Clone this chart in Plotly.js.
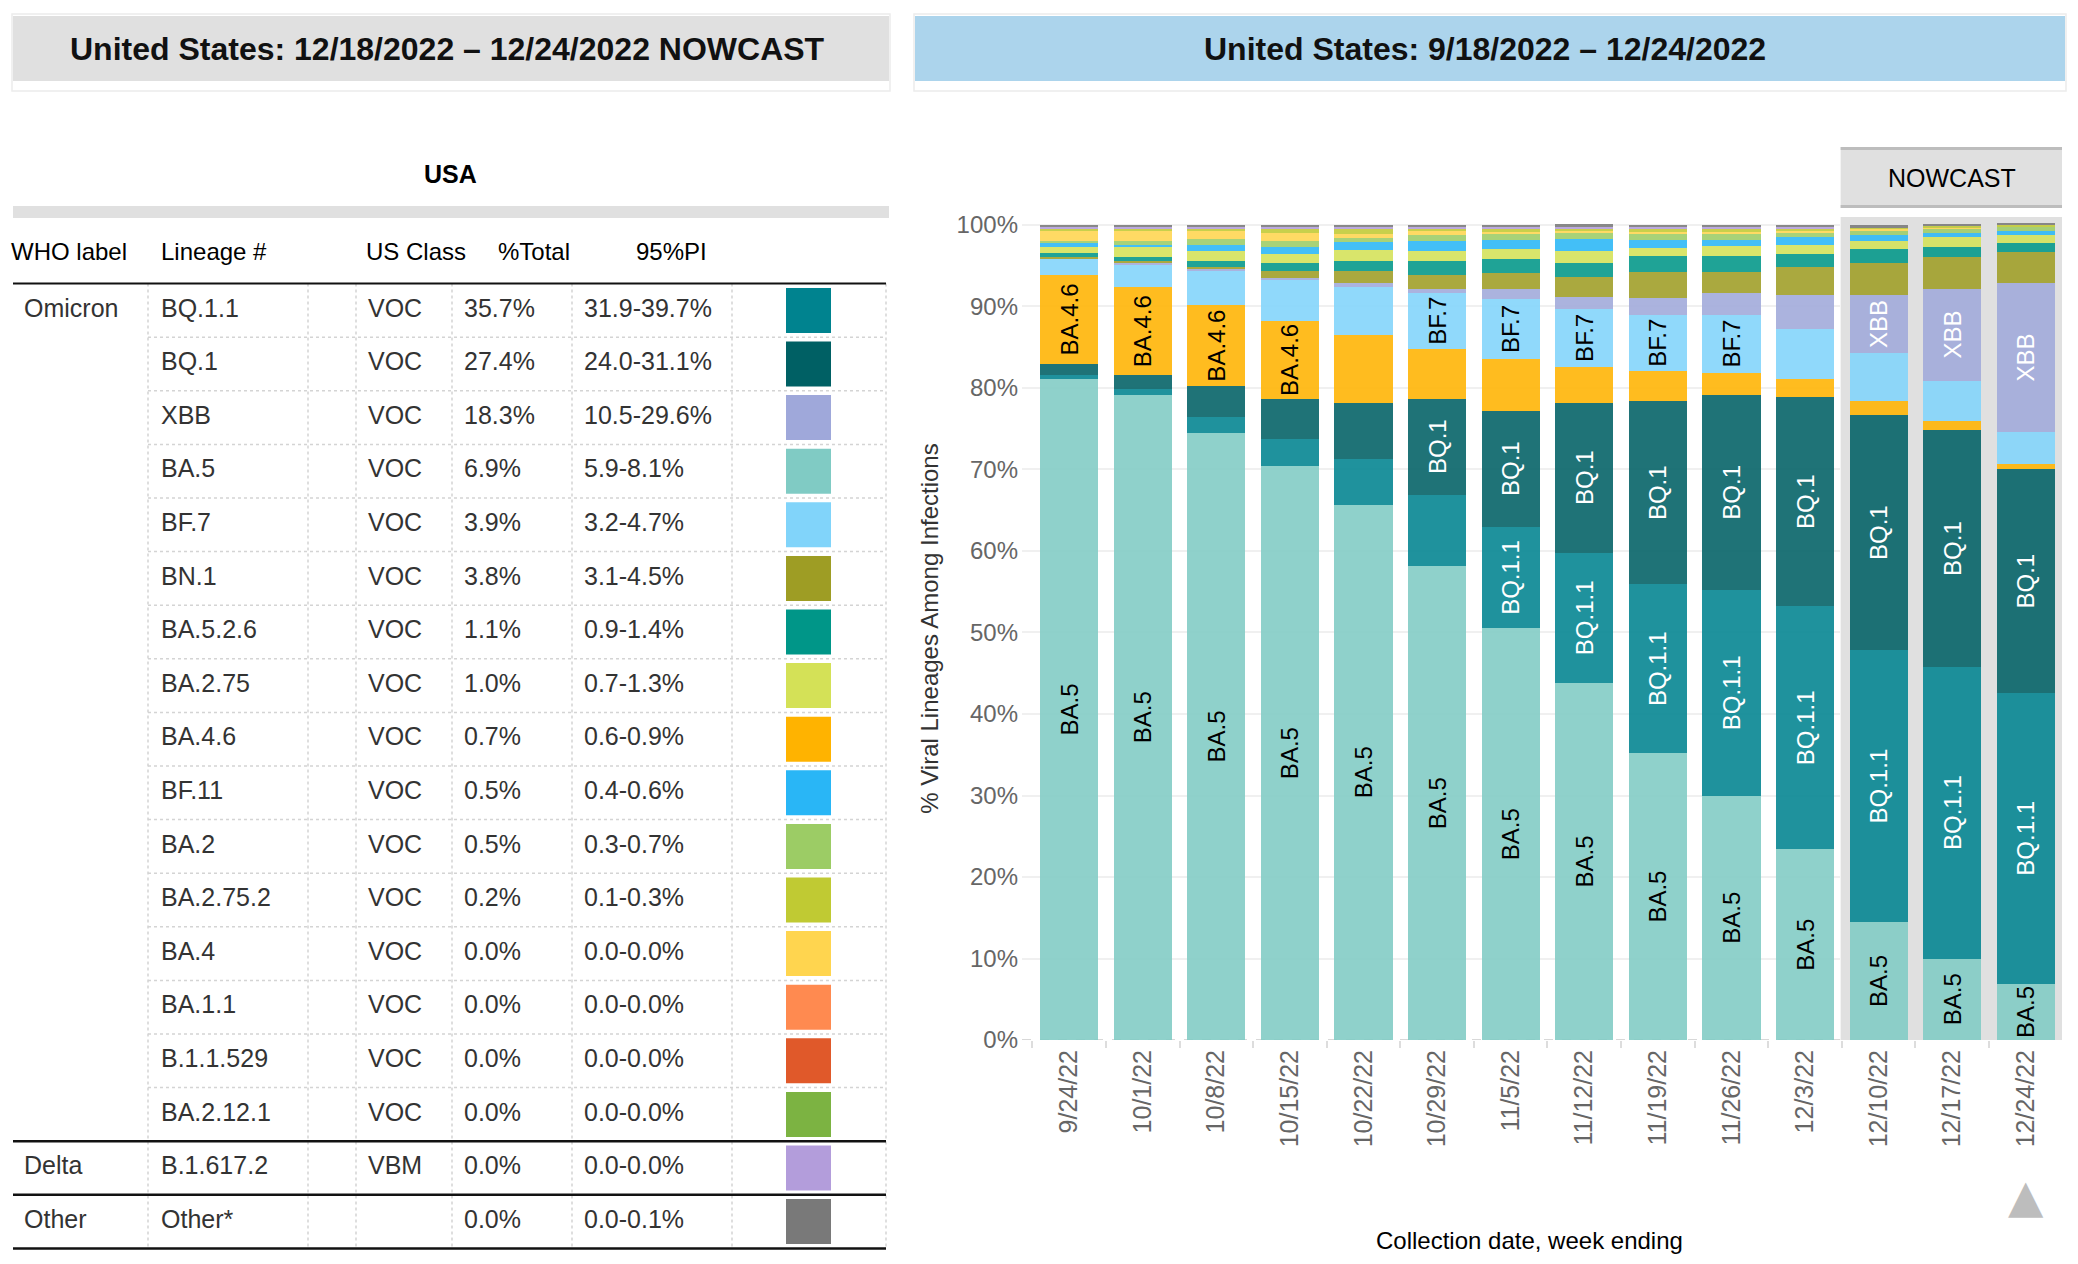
<!DOCTYPE html>
<html>
<head>
<meta charset="utf-8">
<script src="https://cdn.plot.ly/plotly-3.0.1.min.js"></script>
<style>
html,body{margin:0;padding:0;background:#ffffff;}
#chart{width:2078px;height:1264px;}
</style>
</head>
<body>
<div id="chart"></div>
<script>
// ---------------- DATA ----------------
const weeks = ['9/24/22','10/1/22','10/8/22','10/15/22','10/22/22','10/29/22','11/5/22',
               '11/12/22','11/19/22','11/26/22','12/3/22','12/10/22','12/17/22','12/24/22'];
const nHistory = 11;   // first 11 weeks observed, last 3 nowcast

// Table (nowcast 12/18-12/24)
const lineages  = ['BQ.1.1','BQ.1','XBB','BA.5','BF.7','BN.1','BA.5.2.6','BA.2.75','BA.4.6','BF.11',
                   'BA.2','BA.2.75.2','BA.4','BA.1.1','B.1.1.529','BA.2.12.1','B.1.617.2','Other*'];
const whoLabels = ['Omicron','','','','','','','','','','','','','','','','Delta','Other'];
const usClass   = ['VOC','VOC','VOC','VOC','VOC','VOC','VOC','VOC','VOC','VOC','VOC','VOC','VOC','VOC','VOC','VOC','VBM',''];
const pctTotal  = [35.7,27.4,18.3,6.9,3.9,3.8,1.1,1.0,0.7,0.5,0.5,0.2,0.0,0.0,0.0,0.0,0.0,0.0];
const piRange   = ['31.9-39.7%','24.0-31.1%','10.5-29.6%','5.9-8.1%','3.2-4.7%','3.1-4.5%','0.9-1.4%',
                   '0.7-1.3%','0.6-0.9%','0.4-0.6%','0.3-0.7%','0.1-0.3%','0.0-0.0%','0.0-0.0%',
                   '0.0-0.0%','0.0-0.0%','0.0-0.0%','0.0-0.1%'];
const colors    = ['#00838f','#006064','#9fa8da','#80cbc4','#81d4fa','#9e9d24','#009688','#d4e157',
                   '#ffb300','#29b6f6','#9ccc65','#c0ca33','#ffd54f','#ff8a50','#e0592a','#7cb342',
                   '#b39ddb','#797979'];
const headers   = ['WHO label','Lineage #','US Class','%Total','95%PI'];

// Weekly proportions (%), one array per lineage
const ba5    = [81.1,79.2,74.5,70.4,65.7,58.1,50.5,43.8,35.2,30.0,23.4,14.5,10.0,6.9];
const bq11   = [0.5,0.7,2.0,3.4,5.6,8.8,12.5,16.0,20.7,25.2,29.8,33.3,35.8,35.7];
const bq1    = [1.3,1.7,3.7,4.9,6.9,11.8,14.2,18.4,22.5,24.0,25.7,28.9,29.0,27.4];
const ba46   = [11.0,10.75,10.0,9.5,8.3,6.1,6.4,4.4,3.7,2.7,2.2,1.7,1.2,0.7];
const bf7    = [1.9,2.7,4.1,5.1,5.9,6.9,7.3,7.1,6.9,7.1,6.1,5.9,4.9,3.9];
const xbb    = [0.0,0.25,0.25,0.25,0.5,0.5,1.2,1.5,2.1,2.65,4.2,7.1,11.3,18.3];
const bn1    = [0.25,0.25,0.25,0.75,1.45,1.7,2.0,2.4,3.1,2.6,3.4,3.9,3.9,3.8];
const ba526  = [0.5,0.5,0.75,1.0,1.2,1.7,1.7,1.7,2.0,2.0,1.7,1.7,1.2,1.1];
const ba275  = [0.75,1.2,1.2,1.2,1.4,1.2,1.2,1.5,1.0,1.2,1.0,1.0,1.2,1.0];
const bf11   = [0.5,0.25,0.75,0.75,1.0,1.2,1.2,1.5,1.0,0.75,1.0,0.75,0.5,0.5];
const ba2    = [0.25,0.5,0.75,0.75,0.5,0.75,0.75,0.75,0.75,0.75,0.5,0.5,0.5,0.5];
const ba4    = [1.2,1.25,1.0,1.0,0.5,0.5,0.25,0.25,0.25,0.25,0.25,0.2,0.1,0.0];
const ba2752 = [0.2,0.2,0.2,0.5,0.5,0.25,0.25,0.25,0.25,0.25,0.25,0.2,0.25,0.2];
const ba11   = [0,0,0,0,0,0,0,0,0,0,0,0,0,0];
const b11529 = [0,0,0,0,0,0,0,0,0,0,0,0,0,0];
const ba2121 = [0,0,0,0,0,0,0,0,0,0,0,0,0,0];
const b16172 = [0.25,0.25,0.25,0.25,0.25,0.25,0.25,0.25,0.25,0.25,0.25,0,0,0];
const other  = [0.3,0.3,0.3,0.3,0.3,0.3,0.3,0.3,0.3,0.3,0.3,0.3,0.3,0.3];

// Which segments carry an in-bar label (1 = labelled)
const lblBA5  = [1,1,1,1,1,1,1,1,1,1,1,1,1,1];
const lblBQ11 = [0,0,0,0,0,0,1,1,1,1,1,1,1,1];
const lblBQ1  = [0,0,0,0,0,1,1,1,1,1,1,1,1,1];
const lblBA46 = [1,1,1,1,0,0,0,0,0,0,0,0,0,0];
const lblBF7  = [0,0,0,0,0,1,1,1,1,1,0,0,0,0];
const lblXBB  = [0,0,0,0,0,0,0,0,0,0,0,1,1,1];
const none    = [0,0,0,0,0,0,0,0,0,0,0,0,0,0];

// Stack order bottom -> top: [lineage, values, labels, label colour]
const stack = [
  ['BA.5', ba5, lblBA5, '#000000'],
  ['BQ.1.1', bq11, lblBQ11, '#ffffff'],
  ['BQ.1', bq1, lblBQ1, '#ffffff'],
  ['BA.4.6', ba46, lblBA46, '#000000'],
  ['BF.7', bf7, lblBF7, '#000000'],
  ['XBB', xbb, lblXBB, '#ffffff'],
  ['BN.1', bn1, none, '#000000'],
  ['BA.5.2.6', ba526, none, '#000000'],
  ['BA.2.75', ba275, none, '#000000'],
  ['BF.11', bf11, none, '#000000'],
  ['BA.2', ba2, none, '#000000'],
  ['BA.4', ba4, none, '#000000'],
  ['BA.2.75.2', ba2752, none, '#000000'],
  ['BA.1.1', ba11, none, '#000000'],
  ['B.1.1.529', b11529, none, '#000000'],
  ['BA.2.12.1', ba2121, none, '#000000'],
  ['B.1.617.2', b16172, none, '#000000'],
  ['Other*', other, none, '#000000']
];

// ---------------- BUILD ----------------
const W = 2078, H = 1264;
const FONT = 'Liberation Sans, Arial, Helvetica, sans-serif';
const px = p => p / W;
const py = p => 1 - p / H;

const traces = [];
stack.forEach(([name, vals, lbl, tcol]) => {
  const ci = lineages.indexOf(name);
  [[0, nHistory, 'x', 'y'], [nHistory, weeks.length, 'x3', 'y3']].forEach(([a, b, xa, ya]) => {
    traces.push({
      type: 'bar', x: weeks.slice(a, b), y: vals.slice(a, b), name: name,
      marker: {color: colors[ci], opacity: 0.88, line: {width: 0}},
      text: lbl.slice(a, b).map(f => f ? name.replace('*', '') : ''),
      textposition: 'inside', insidetextanchor: 'middle', textangle: -90,
      constraintext: 'none',
      insidetextfont: {family: FONT, size: 24, color: tcol},
      hoverinfo: 'x+y+name', showlegend: false, xaxis: xa, yaxis: ya
    });
  });
});

// Table on its own (hidden) axes: x in px units, y in row units
const rows = lineages.map((_, i) => i);
const textTrace = (xs, ys, txt, size, color) => ({
  type: 'scatter', mode: 'text', x: xs, y: ys, text: txt,
  textposition: 'middle right', cliponaxis: false,
  textfont: {family: FONT, size: size, color: color},
  hoverinfo: 'skip', showlegend: false, xaxis: 'x2', yaxis: 'y2'
});
traces.push(textTrace([11,161,366,498,636], [-1.05,-1.05,-1.05,-1.05,-1.05], headers, 24, '#000000'));
traces.push(textTrace(rows.map(() => 24), rows, whoLabels, 25, '#333333'));
traces.push(textTrace(rows.map(() => 161), rows, lineages, 25, '#333333'));
traces.push(textTrace(rows.map(() => 368), rows, usClass, 25, '#333333'));
traces.push(textTrace(rows.map(() => 464), rows, pctTotal.map(v => v.toFixed(1) + '%'), 25, '#333333'));
traces.push(textTrace(rows.map(() => 584), rows, piRange, 25, '#333333'));
traces.push({
  type: 'scatter', mode: 'markers', x: rows.map(() => 808.5), y: rows,
  marker: {symbol: 'square', size: 45, color: colors, line: {width: 0}},
  hoverinfo: 'skip', showlegend: false, xaxis: 'x2', yaxis: 'y2', cliponaxis: false
});

const YMAX = 100.98;
const shapes = [];
// title boxes
shapes.push({type:'rect', xref:'paper', yref:'paper', x0:px(12), x1:px(890), y0:py(91), y1:py(14),
             line:{color:'#ececec', width:1.5}, fillcolor:'rgba(0,0,0,0)'});
shapes.push({type:'rect', xref:'paper', yref:'paper', x0:px(13), x1:px(889), y0:py(81), y1:py(16),
             line:{width:0}, fillcolor:'#e0e0e0'});
shapes.push({type:'rect', xref:'paper', yref:'paper', x0:px(914), x1:px(2066), y0:py(91), y1:py(14),
             line:{color:'#ececec', width:1.5}, fillcolor:'rgba(0,0,0,0)'});
shapes.push({type:'rect', xref:'paper', yref:'paper', x0:px(915), x1:px(2065), y0:py(81), y1:py(16),
             line:{width:0}, fillcolor:'#acd4ec'});
// table gray bar
shapes.push({type:'rect', xref:'paper', yref:'paper', x0:px(13), x1:px(889), y0:py(218), y1:py(206),
             line:{width:0}, fillcolor:'#e0e0e0'});
// nowcast panel & strip
shapes.push({type:'rect', xref:'x3', yref:'y3', x0:-0.52, x1:2.49, y0:0, y1:YMAX,
             line:{width:0}, fillcolor:'#e0e0e0', layer:'below'});
shapes.push({type:'rect', xref:'x3', yref:'paper', x0:-0.52, x1:2.49, y0:py(208), y1:py(147),
             line:{width:0}, fillcolor:'#e0e0e0', layer:'below'});
shapes.push({type:'line', xref:'x3', yref:'paper', x0:-0.52, x1:2.49, y0:py(148.5), y1:py(148.5),
             line:{color:'#bdbdbd', width:3}});
shapes.push({type:'line', xref:'x3', yref:'paper', x0:-0.52, x1:2.49, y0:py(206.5), y1:py(206.5),
             line:{color:'#bdbdbd', width:3}});
// dashed baseline in history panel
shapes.push({type:'line', xref:'x', yref:'y', x0:-0.64, x1:10.48, y0:0, y1:0,
             line:{color:'#cccccc', width:1.5, dash:'dash'}, layer:'below'});
// table lines
const tl = (x0, x1, y0, y1, color, width, dash) => ({type:'line', xref:'x2', yref:'y2', x0, x1, y0, y1,
             line:{color, width, dash: dash || 'solid'}});
[148,308,356,452,572,732,886].forEach(x => shapes.push(tl(x, x, -0.5, rows.length - 0.5, '#d4d4d4', 1.5, 'dot')));
for (let i = 0; i < 15; i++) shapes.push(tl(148, 886, i + 0.5, i + 0.5, '#d4d4d4', 1.5, 'dot'));
shapes.push(tl(13, 886, -0.5, -0.5, '#111111', 2));
[15.5, 16.5, 17.5].forEach(y => shapes.push(tl(13, 886, y, y, '#111111', 2.5)));

const annotations = [
  {xref:'paper', yref:'paper', x:px(447), y:py(48.5), xanchor:'center', yanchor:'middle',
   text:'<b>United States: 12/18/2022 – 12/24/2022 NOWCAST</b>',
   showarrow:false, font:{family:FONT, size:32, color:'#111111'}},
  {xref:'paper', yref:'paper', x:px(1485), y:py(48.5), xanchor:'center', yanchor:'middle',
   text:'<b>United States: 9/18/2022 – 12/24/2022</b>',
   showarrow:false, font:{family:FONT, size:32, color:'#111111'}},
  {xref:'paper', yref:'paper', x:px(450), y:py(174), xanchor:'center', yanchor:'middle', text:'<b>USA</b>',
   showarrow:false, font:{family:FONT, size:25, color:'#000000'}},
  {xref:'x3', yref:'paper', x:1, y:py(178), xanchor:'center', yanchor:'middle', text:'NOWCAST',
   showarrow:false, font:{family:FONT, size:25, color:'#000000'}},
  {xref:'paper', yref:'paper', x:px(1529), y:py(1240), xanchor:'center', yanchor:'middle',
   text:'Collection date, week ending',
   showarrow:false, font:{family:FONT, size:24, color:'#000000'}},
  {xref:'x3', yref:'paper', x:2, y:py(1196), xanchor:'center', yanchor:'middle', text:'▲',
   showarrow:false, font:{family:'DejaVu Sans', size:46, color:'#bdbdbd'}}
];

const xCommon = {
  type: 'category', tickangle: -90, tickfont: {family: FONT, size: 25, color: '#666666'},
  ticks: 'outside', tickson: 'boundaries', ticklen: 7, tickwidth: 2, tickcolor: '#dddddd',
  ticklabelstandoff: 4,
  showgrid: false, showline: false, zeroline: false, automargin: false, fixedrange: true
};
const yDomain = [(H-1040)/H, (H-217)/H];

const layout = {
  width: W, height: H,
  margin: {l:0, r:0, t:0, b:0, pad:0},
  paper_bgcolor: '#ffffff', plot_bgcolor: 'rgba(0,0,0,0)',
  font: {family: FONT},
  barmode: 'stack', bargap: 0.21, showlegend: false,
  xaxis: Object.assign({}, xCommon, {domain: [1022/W, 1840.4/W], range: [-0.64, 10.48], anchor: 'y'}),
  xaxis3: Object.assign({}, xCommon, {domain: [1840.4/W, 2062/W], range: [-0.52, 2.49], anchor: 'y3'}),
  yaxis: {
    domain: yDomain, range: [0, YMAX], anchor: 'x',
    tickvals: [0,10,20,30,40,50,60,70,80,90,100],
    ticktext: ['0%','10%','20%','30%','40%','50%','60%','70%','80%','90%','100%'],
    tickfont: {family: FONT, size: 24, color: '#666666'},
    ticks: '', ticklabelstandoff: 3, showgrid: true, gridcolor: '#f0f0f0', gridwidth: 2,
    zeroline: false, showline: false, automargin: false, fixedrange: true,
    title: {text: '% Viral Lineages Among Infections', font: {family: FONT, size: 24, color: '#333333'}, standoff: 11}
  },
  yaxis3: {
    domain: yDomain, range: [0, YMAX], anchor: 'x3', showticklabels: false, ticks: '',
    showgrid: false, zeroline: false, showline: false, automargin: false, fixedrange: true
  },
  xaxis2: {domain: [0, 893.5/W], range: [0, 893.5], visible: false, anchor: 'y2', fixedrange: true},
  yaxis2: {domain: [0, 1], range: [(H-310.4)/53.6, -310.4/53.6], visible: false, anchor: 'x2', fixedrange: true},
  shapes: shapes,
  annotations: annotations
};

Plotly.newPlot('chart', traces, layout, {staticPlot: true, displayModeBar: false});
</script>
</body>
</html>
